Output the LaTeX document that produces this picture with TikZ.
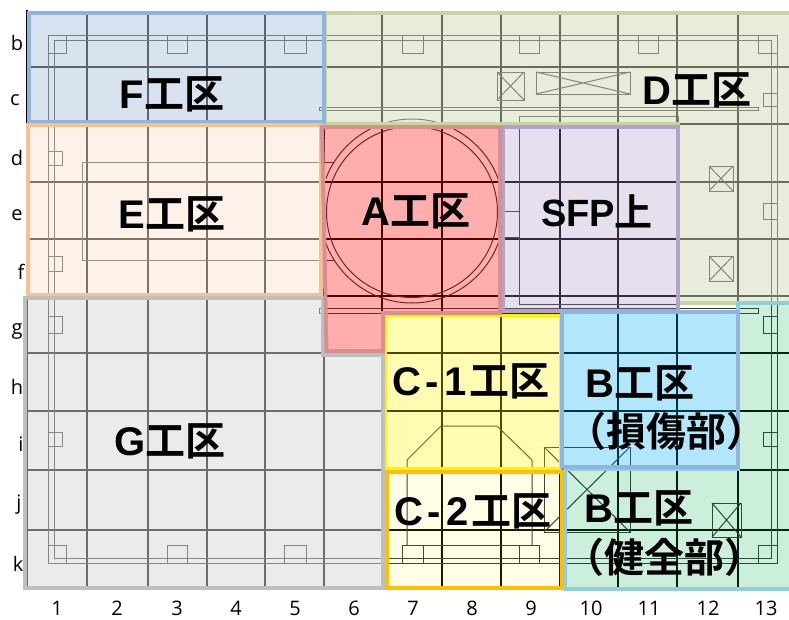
\documentclass[tikz,border=0pt]{standalone}
\usepackage{fontspec}
\setmainfont{Open Sans}
\newfontfamily\cjkbold{Noto Sans CJK JP Bold}
\newfontfamily\latb{Liberation Sans}
\newcommand\lat[1]{{\latb\bfseries #1}}
\tikzset{
  gridline/.style={black,line width=1.5pt},
  planline/.style={black!80,line width=1pt},
  zone/.style={line width=4pt,line join=miter},
  tick/.style={font=\fontsize{20}{22}\selectfont,inner sep=0pt,text=black},
  area/.style={font=\cjkbold\fontsize{40}{42}\selectfont,inner sep=0pt,text=black,align=center},
}
\begin{document}
\begin{tikzpicture}[x=1pt,y=-1pt]
\clip (0,0) rectangle (789,619);
\fill[white] (0,0) rectangle (789,619);
% grid
\foreach \x in {87,148,207,265,324,382,442,501,560,618,677,738}
  \draw[gridline] (\x,13) -- (\x,588);
\foreach \y in {67,124,182,239,296,353,411,470,530}
  \draw[gridline] (27,\y) -- (789,\y);
\draw[gridline] (27,10) -- (27,588) -- (789,588);
% plan
\draw[planline] (48,35) rectangle (777,563);
\draw[planline] (54,40) rectangle (771,558);
\foreach \a/\b in {48/66,167/187,284/306,402/423,519/539,638/658,758/777}{
  \draw[planline] (\a,35) rectangle (\b,53);
}
\foreach \a/\b in {48/66,167/187,284/306,402/423,519/539,758/777}{
  \draw[planline] (\a,545) rectangle (\b,563);
}
\draw[planline] (423,545) -- (519,545);
\foreach \a/\b in {151/165,256/271,316/333,432/446}
  \draw[planline] (48,\a) rectangle (62,\b);
\foreach \a/\b in {93/106,203/219,316/333,432/446}
  \draw[planline] (763,\a) rectangle (777,\b);
\foreach \a/\b/\c/\d in {497/72/524/100,536/72/630/94,709/166/733/191,709/256/733/281,712/503/741/537,544/447/630/532}{
  \draw[planline] (\a,\b) rectangle (\c,\d);
  \draw[planline] (\a,\b) -- (\c,\d) (\a,\d) -- (\c,\b);
}
\draw[planline] (319,107) rectangle (758,110);
\draw[planline] (319,308) rectangle (758,313);
\draw[planline] (678,126) -- (678,116) -- (519,116) -- (519,304) -- (678,304);
\draw[planline] (334,162) -- (82,162) -- (82,260) -- (334,260);
\begin{scope}
  \clip (326,100) rectangle (520,320);
  \draw[planline] (412,211) circle[radius=92];
\end{scope}
\draw[planline] (412,212) circle[radius=85.5];
\draw[planline] (505,211) -- (519,211) (505,237) -- (519,237);
\draw[planline] (407,545) -- (407,460) -- (441,426) -- (497,426) -- (532,460) -- (532,545);
% zones
\path[zone,fill={rgb,255:red,211;green,219;blue,185},fill opacity=.5,draw={rgb,255:red,197;green,215;blue,158}] (325,13) -- (795,13) -- (795,303) -- (678,303) -- (678,124) -- (325,124) -- cycle;
\path[zone,fill={rgb,255:red,181;green,199;blue,225},fill opacity=.5,draw={rgb,255:red,143;green,180;blue,224}] (29,13) rectangle (324,122);
\path[zone,fill={rgb,255:red,253;green,231;blue,213},fill opacity=.5,draw={rgb,255:red,248;green,192;blue,144}] (28,125) rectangle (321,295);
\path[zone,fill={rgb,255:red,170;green,150;blue,200},fill opacity=.3,draw={rgb,255:red,178;green,162;blue,204}] (503,127) rectangle (678,311);
\path[zone,line width=3pt,fill=yellow,fill opacity=.3,draw=yellow] (385,315) rectangle (560,468);
\path[zone,line width=3.5pt,fill=yellow,fill opacity=.1,draw={rgb,255:red,255;green,192;blue,0}] (387,472) rectangle (562,588);
\path[zone,fill=black!15,fill opacity=.5,draw=black!25] (25,298) -- (323,298) -- (323,355) -- (383,355) -- (383,588) -- (25,588) -- cycle;
\path[zone,fill=red,fill opacity=.32,draw={rgb,255:red,214;green,144;blue,144}] (322,127) -- (500,127) -- (500,313) -- (383,313) -- (383,351) -- (326.5,351) -- cycle;
\path[zone,fill={rgb,255:red,0;green,176;blue,80},fill opacity=.2,draw={rgb,255:red,146;green,205;blue,220}] (565,469) -- (738,469) -- (738,303) -- (795,303) -- (795,589) -- (565,589) -- cycle;
\path[zone,fill={rgb,255:red,0;green,173;blue,240},fill opacity=.3,draw={rgb,255:red,143;green,180;blue,224}] (562,312) rectangle (738,467);
% axis labels
\foreach \t/\x in {1/57,2/117,3/177,4/236,5/295,6/354,7/413,8/472,9/531,10/591,11/649,12/708,13/766}
  \node[tick] (n\t) at (\x,608) {\t};
\foreach \t/\x/\y in {b/17/43,c/15/100,d/17/158,e/17/215,f/21/272,g/17/331,h/17/387,i/21/444,j/19/505,k/18/564}
  \node[tick] (r\t) at (\x,\y) {\t};
% area labels
\node[area] (lf) at (172,94) {\lat{F}工区};
\node[area] (le) at (172,214) {\lat{E}工区};
\node[area] (lg) at (170,441) {\lat{G}工区};
\node[area] (la) at (416,211) {\lat{A}工区};
\node[area] (ld) at (697,90) {\lat{D}工区};
\node[area,font=\cjkbold\fontsize{38}{40}\selectfont] (ls) at (597,211) {\lat{SFP}上};
\node[area] (lc) at (471,381) {\lat{C\kern4pt-\kern6pt1\kern2pt}工区};
\node[area] (ld2) at (473,511) {\lat{C\kern4pt-\kern6pt2\kern2pt}工区};
\node[area] (lb) at (640,383) {\lat{B}工区};
\node[area] (lbb) at (666,431) {（損傷部）};
\node[area] (lh) at (639,508) {\lat{B}工区};
\node[area] (lhh) at (664,557) {（健全部）};
\end{tikzpicture}
\end{document}
